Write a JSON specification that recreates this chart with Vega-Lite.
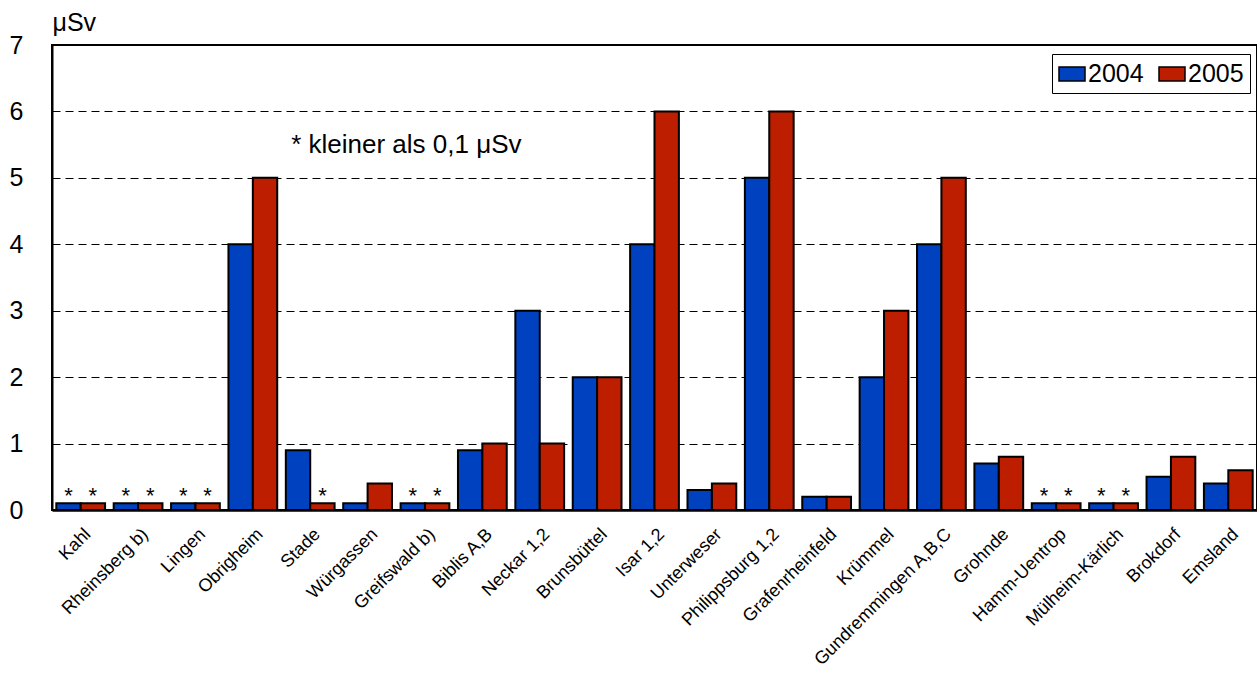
{
  "$schema": "https://vega.github.io/schema/vega-lite/v6.json",
  "width": 1205,
  "height": 465,
  "autosize": {"type": "none"},
  "padding": {"left": 52, "top": 45, "right": 0, "bottom": 165},
  "background": "white",
  "config": {
    "font": "Liberation Sans",
    "view": {"stroke": "black", "strokeWidth": 2}
  },
  "data": {
    "values": [
      {"site": "Kahl", "year": "2004", "value": 0.1, "star": true},
      {"site": "Kahl", "year": "2005", "value": 0.1, "star": true},
      {"site": "Rheinsberg b)", "year": "2004", "value": 0.1, "star": true},
      {"site": "Rheinsberg b)", "year": "2005", "value": 0.1, "star": true},
      {"site": "Lingen", "year": "2004", "value": 0.1, "star": true},
      {"site": "Lingen", "year": "2005", "value": 0.1, "star": true},
      {"site": "Obrigheim", "year": "2004", "value": 4, "star": false},
      {"site": "Obrigheim", "year": "2005", "value": 5, "star": false},
      {"site": "Stade", "year": "2004", "value": 0.9, "star": false},
      {"site": "Stade", "year": "2005", "value": 0.1, "star": true},
      {"site": "Würgassen", "year": "2004", "value": 0.1, "star": false},
      {"site": "Würgassen", "year": "2005", "value": 0.4, "star": false},
      {"site": "Greifswald b)", "year": "2004", "value": 0.1, "star": true},
      {"site": "Greifswald b)", "year": "2005", "value": 0.1, "star": true},
      {"site": "Biblis A,B", "year": "2004", "value": 0.9, "star": false},
      {"site": "Biblis A,B", "year": "2005", "value": 1, "star": false},
      {"site": "Neckar 1,2", "year": "2004", "value": 3, "star": false},
      {"site": "Neckar 1,2", "year": "2005", "value": 1, "star": false},
      {"site": "Brunsbüttel", "year": "2004", "value": 2, "star": false},
      {"site": "Brunsbüttel", "year": "2005", "value": 2, "star": false},
      {"site": "Isar 1,2", "year": "2004", "value": 4, "star": false},
      {"site": "Isar 1,2", "year": "2005", "value": 6, "star": false},
      {"site": "Unterweser", "year": "2004", "value": 0.3, "star": false},
      {"site": "Unterweser", "year": "2005", "value": 0.4, "star": false},
      {"site": "Philippsburg 1,2", "year": "2004", "value": 5, "star": false},
      {"site": "Philippsburg 1,2", "year": "2005", "value": 6, "star": false},
      {"site": "Grafenrheinfeld", "year": "2004", "value": 0.2, "star": false},
      {"site": "Grafenrheinfeld", "year": "2005", "value": 0.2, "star": false},
      {"site": "Krümmel", "year": "2004", "value": 2, "star": false},
      {"site": "Krümmel", "year": "2005", "value": 3, "star": false},
      {"site": "Gundremmingen A,B,C", "year": "2004", "value": 4, "star": false},
      {"site": "Gundremmingen A,B,C", "year": "2005", "value": 5, "star": false},
      {"site": "Grohnde", "year": "2004", "value": 0.7, "star": false},
      {"site": "Grohnde", "year": "2005", "value": 0.8, "star": false},
      {"site": "Hamm-Uentrop", "year": "2004", "value": 0.1, "star": true},
      {"site": "Hamm-Uentrop", "year": "2005", "value": 0.1, "star": true},
      {"site": "Mülheim-Kärlich", "year": "2004", "value": 0.1, "star": true},
      {"site": "Mülheim-Kärlich", "year": "2005", "value": 0.1, "star": true},
      {"site": "Brokdorf", "year": "2004", "value": 0.5, "star": false},
      {"site": "Brokdorf", "year": "2005", "value": 0.8, "star": false},
      {"site": "Emsland", "year": "2004", "value": 0.4, "star": false},
      {"site": "Emsland", "year": "2005", "value": 0.6, "star": false}
    ]
  },
  "encoding": {
    "x": {
      "field": "site",
      "type": "nominal",
      "sort": null,
      "scale": {"paddingInner": 0.15, "paddingOuter": 0.075},
      "axis": {
        "title": null,
        "labelAngle": -45,
        "labelAlign": "right",
        "labelBaseline": "top",
        "labelFontSize": 18,
        "labelColor": "black",
        "labelPadding": 15,
        "labelOffset": 1,
        "labelLimit": 400,
        "domainColor": "black",
        "domainWidth": 2.5,
        "ticks": false
      }
    },
    "y": {
      "field": "value",
      "type": "quantitative",
      "scale": {"domain": [0, 7]},
      "axis": {
        "title": "μSv",
        "titleAngle": 0,
        "titleAlign": "left",
        "titleBaseline": "alphabetic",
        "titleX": 0,
        "titleY": -15,
        "titleFontSize": 25,
        "titleFontWeight": "normal",
        "titleColor": "black",
        "values": [0, 1, 2, 3, 4, 5, 6, 7],
        "labelFontSize": 25,
        "labelColor": "black",
        "labelPadding": 29,
        "ticks": false,
        "domainColor": "black",
        "domainWidth": 2,
        "grid": true,
        "gridColor": "black",
        "gridDash": [8, 5],
        "gridWidth": 1
      }
    }
  },
  "layer": [
    {
      "mark": {"type": "bar", "stroke": "black", "strokeWidth": 2},
      "encoding": {
        "xOffset": {"field": "year", "type": "nominal"},
        "color": {
          "field": "year",
          "type": "nominal",
          "scale": {"domain": ["2004", "2005"], "range": ["#0041BF", "#BD1E00"]},
          "legend": {
            "title": null,
            "orient": "none",
            "legendX": 1000,
            "legendY": 9,
            "direction": "horizontal",
            "strokeColor": "black",
            "fillColor": "white",
            "padding": 6,
            "symbolType": "M-1,-0.54H1V0.54H-1Z",
            "symbolSize": 676,
            "symbolStrokeColor": "black",
            "symbolStrokeWidth": 1.5,
            "symbolOpacity": 1,
            "labelFontSize": 25,
            "labelColor": "black",
            "labelOffset": 2,
            "columnPadding": 12
          }
        }
      }
    },
    {
      "transform": [{"filter": "datum.star"}],
      "mark": {"type": "text", "text": "*", "fontSize": 22, "dy": 0, "baseline": "alphabetic", "color": "black"},
      "encoding": {
        "xOffset": {"field": "year", "type": "nominal"}
      }
    },
    {
      "data": {"values": [{"site": "Stade", "value": 5.5, "note": "* kleiner als 0,1 μSv"}]},
      "mark": {"type": "text", "align": "left", "baseline": "alphabetic", "fontSize": 26, "dx": -19, "dy": 8, "color": "black"},
      "encoding": {
        "text": {"field": "note"}
      }
    }
  ]
}
